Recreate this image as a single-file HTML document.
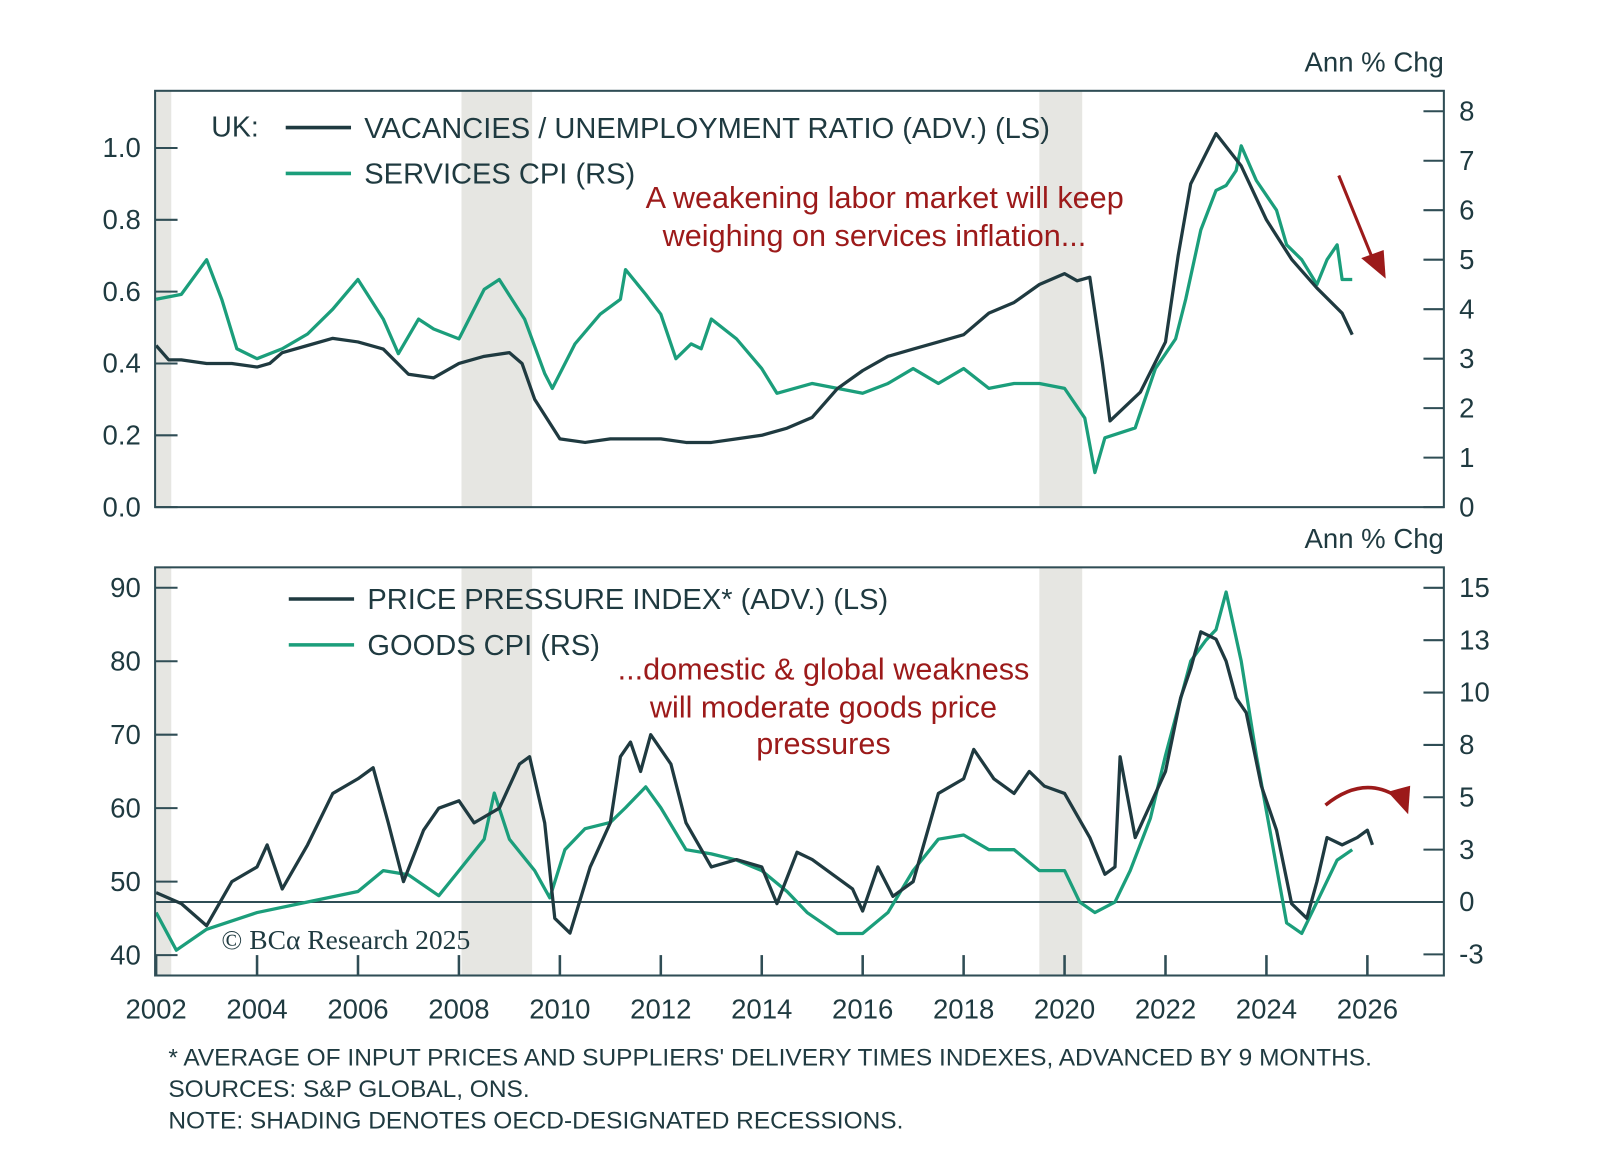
<!DOCTYPE html>
<html><head><meta charset="utf-8"><style>
body{margin:0;background:#fff;}
svg{display:block;font-family:"Liberation Sans",sans-serif;}
</style></head><body>
<svg width="1600" height="1150" viewBox="0 0 1600 1150"><g id="c" transform="scale(1.0204)"></g></svg>
<script>
const vuDates=[2002,2002.25,2002.5,2003,2003.5,2004,2004.25,2004.5,2005,2005.5,2006,2006.5,2007,2007.5,2008,2008.5,2009,2009.25,2009.5,2010,2010.5,2011,2011.5,2012,2012.5,2013,2013.5,2014,2014.5,2015,2015.5,2016,2016.5,2017,2017.5,2018,2018.5,2019,2019.5,2020,2020.25,2020.5,2020.75,2020.9,2021.5,2022,2022.25,2022.5,2023,2023.5,2024,2024.5,2025,2025.5,2025.7];
const vuVals=[0.45,0.41,0.41,0.40,0.40,0.39,0.40,0.43,0.45,0.47,0.46,0.44,0.37,0.36,0.40,0.42,0.43,0.40,0.30,0.19,0.18,0.19,0.19,0.19,0.18,0.18,0.19,0.20,0.22,0.25,0.33,0.38,0.42,0.44,0.46,0.48,0.54,0.57,0.62,0.65,0.63,0.64,0.40,0.24,0.32,0.46,0.70,0.90,1.04,0.95,0.80,0.69,0.61,0.54,0.48];
const svcDates=[2002,2002.5,2003,2003.3,2003.6,2004,2004.5,2005,2005.5,2006,2006.5,2006.8,2007.2,2007.5,2008,2008.5,2008.8,2009.3,2009.7,2009.85,2010.3,2010.8,2011.2,2011.3,2011.7,2012,2012.3,2012.6,2012.8,2013,2013.5,2014,2014.3,2015,2015.5,2016,2016.5,2017,2017.5,2018,2018.5,2019,2019.5,2020,2020.4,2020.6,2020.8,2021.4,2021.8,2022.2,2022.4,2022.7,2023,2023.2,2023.4,2023.5,2023.8,2024.2,2024.4,2024.7,2025,2025.2,2025.4,2025.5,2025.7];
const svcVals=[4.2,4.3,5.0,4.2,3.2,3.0,3.2,3.5,4.0,4.6,3.8,3.1,3.8,3.6,3.4,4.4,4.6,3.8,2.7,2.4,3.3,3.9,4.2,4.8,4.3,3.9,3.0,3.3,3.2,3.8,3.4,2.8,2.3,2.5,2.4,2.3,2.5,2.8,2.5,2.8,2.4,2.5,2.5,2.4,1.8,0.7,1.4,1.6,2.8,3.4,4.2,5.6,6.4,6.5,6.8,7.3,6.6,6.0,5.3,5.0,4.5,5.0,5.3,4.6,4.6];
const ppiDates=[2002,2002.5,2003,2003.5,2004,2004.2,2004.5,2005,2005.5,2006,2006.3,2006.6,2006.9,2007.3,2007.6,2008,2008.3,2008.8,2009.2,2009.4,2009.7,2009.9,2010.2,2010.6,2011,2011.2,2011.4,2011.6,2011.8,2012.2,2012.5,2013,2013.5,2014,2014.3,2014.7,2015,2015.4,2015.8,2016,2016.3,2016.6,2017,2017.5,2018,2018.2,2018.6,2019,2019.3,2019.6,2020,2020.5,2020.8,2021,2021.1,2021.4,2022,2022.3,2022.5,2022.7,2023,2023.2,2023.4,2023.6,2023.9,2024.2,2024.5,2024.8,2025,2025.2,2025.5,2025.8,2026,2026.1];
const ppiVals=[48.5,47,44,50,52,55,49,55,62,64,65.5,58,50,57,60,61,58,60,66,67,58,45,43,52,58,67,69,65,70,66,58,52,53,52,47,54,53,51,49,46,52,48,50,62,64,68,64,62,65,63,62,56,51,52,67,56,65,75,79,84,83,80,75,73,63,57,47,45,50,56,55,56,57,55];
const gdsDates=[2002,2002.4,2003,2004,2005,2006,2006.5,2007,2007.6,2008,2008.5,2008.7,2009,2009.5,2009.8,2010.1,2010.5,2011,2011.3,2011.7,2012,2012.5,2013,2013.5,2014,2014.5,2014.9,2015.5,2016,2016.5,2017,2017.5,2018,2018.5,2019,2019.5,2020,2020.3,2020.6,2021,2021.3,2021.7,2022,2022.5,2022.8,2023,2023.2,2023.5,2023.8,2024.1,2024.4,2024.7,2025,2025.4,2025.7];
const gdsVals=[-0.5,-2.3,-1.3,-0.5,0,0.5,1.5,1.3,0.3,1.5,3.0,5.2,3.0,1.5,0.2,2.5,3.5,3.8,4.5,5.5,4.5,2.5,2.3,2.0,1.5,0.5,-0.5,-1.5,-1.5,-0.5,1.5,3.0,3.2,2.5,2.5,1.5,1.5,0,-0.5,0,1.5,4.0,7.0,11.5,12.5,13,14.8,11.5,7,3,-1,-1.5,0,2,2.5];
const years=[2002,2004,2006,2008,2010,2012,2014,2016,2018,2020,2022,2024,2026];
const recessions=[[2002,2002.3],[2008.05,2009.45],[2019.5,2020.35]];
const topL=[0,0.2,0.4,0.6,0.8,1.0], topR=[0,1,2,3,4,5,6,7,8];
const botL=[40,50,60,70,80,90], botR=[-2.5,0,2.5,5,7.5,10,12.5,15], botRLbl=["-3","0","3","5","8","10","13","15"];

const NS="http://www.w3.org/2000/svg", S=document.getElementById('c');
function el(t,a,txt){const e=document.createElementNS(NS,t);for(const k in a)e.setAttribute(k,a[k]);if(txt!==undefined)e.textContent=txt;S.appendChild(e);return e;}
const X=y=>153+(y-2002)*49.46;
const tL=v=>497-v*352, tR=v=>497-v*48.5;
const bL=v=>576+(90-v)*7.2, bR=v=>884-v*20.53;
const DARK="#1f3a40", GREEN="#1b9e7b", RED="#9c1a1a", FR="#2f4d55";

function panel(top,bot){
  recessions.forEach(r=>{const e=el('rect',{x:Math.max(X(r[0]),153),y:top,width:X(r[1])-Math.max(X(r[0]),153),height:bot-top,fill:"#e6e6e2"});
  });
}
panel(89,497);panel(556,956);

function line(ds,vs,fx,fy,col,name){const d=ds.map((t,i)=>(i?'L':'M')+X(t).toFixed(1)+','+fy(vs[i]).toFixed(1)).join('');
 const e=el('path',{d:d,fill:'none',stroke:col,'stroke-width':3.2,'stroke-linejoin':'round'});
 }
function frame(top,bot,name){const e=el('rect',{x:152,y:top,width:1263,height:bot-top,fill:'none',stroke:FR,'stroke-width':2});
 }
let z=el('line',{x1:152,x2:1415,y1:bR(0),y2:bR(0),stroke:FR,'stroke-width':2});


line(svcDates,svcVals,X,tR,GREEN,'services-cpi-line');
line(vuDates,vuVals,X,tL,DARK,'vacancies-unemployment-line');
line(gdsDates,gdsVals,X,bR,GREEN,'goods-cpi-line');
line(ppiDates,ppiVals,X,bL,DARK,'price-pressure-line');
frame(89,497,'top-panel-frame');frame(556,956,'bottom-panel-frame');

const ft={'font-size':27,fill:DARK};
topL.forEach(v=>{el('line',{x1:152,x2:174,y1:tL(v),y2:tL(v),stroke:FR,'stroke-width':2});
 const t=el('text',Object.assign({x:138,y:tL(v)+9,'text-anchor':'end'},ft),v.toFixed(1));});
topR.forEach(v=>{el('line',{x1:1415,x2:1395,y1:tR(v),y2:tR(v),stroke:FR,'stroke-width':2});
 const t=el('text',Object.assign({x:1430,y:tR(v)+9},ft),String(v));});
botL.forEach(v=>{el('line',{x1:152,x2:174,y1:bL(v),y2:bL(v),stroke:FR,'stroke-width':2});
 const t=el('text',Object.assign({x:138,y:bL(v)+9,'text-anchor':'end'},ft),String(v));});
botR.forEach((v,i)=>{el('line',{x1:1415,x2:1395,y1:bR(v),y2:bR(v),stroke:FR,'stroke-width':2});
 const t=el('text',Object.assign({x:1430,y:bR(v)+9},ft),botRLbl[i]);});
years.forEach(y=>{el('line',{x1:X(y),x2:X(y),y1:956,y2:936,stroke:FR,'stroke-width':2.5});
 const t=el('text',Object.assign({x:X(y),y:998,'text-anchor':'middle'},ft),String(y));});

function txt(x,y,s,o,name){const t=el('text',Object.assign({x:x,y:y},ft,o||{}),s);return t;}
txt(1415,70,"Ann % Chg",{'text-anchor':'end'},'top-right-axis-title');
txt(1415,537,"Ann % Chg",{'text-anchor':'end'},'bottom-right-axis-title');
txt(207,134,"UK:",{'font-size':28},'region-label');
function leg(x1,y,col,label,name){el('line',{x1:x1,x2:x1+64,y1:y,y2:y,stroke:col,'stroke-width':3.5});txt(x1+77,y+10,label,{'font-size':28.5},name);}
leg(280,125,DARK,"VACANCIES / UNEMPLOYMENT RATIO (ADV.) (LS)",'legend-vu-ratio');
leg(280,170,GREEN,"SERVICES CPI (RS)",'legend-services-cpi');
leg(283,587,DARK,"PRICE PRESSURE INDEX* (ADV.) (LS)",'legend-price-pressure');
leg(283,632,GREEN,"GOODS CPI (RS)",'legend-goods-cpi');
const rd={fill:RED,'font-size':30,'text-anchor':'middle'};
txt(867,204,"A weakening labor market will keep",rd,'annotation-top');
txt(857,241,"weighing on services inflation...",rd,'annotation-top-2');
txt(807,666,"...domestic & global weakness",rd,'annotation-bottom');
txt(807,703,"will moderate goods price",rd,'annotation-bottom-2');
txt(807,739,"pressures",rd,'annotation-bottom-3');
txt(217,930,"© BCα Research 2025",{'font-family':'"Liberation Serif",serif','font-size':27},'copyright');
txt(165,1044,"* AVERAGE OF INPUT PRICES AND SUPPLIERS' DELIVERY TIMES INDEXES, ADVANCED BY 9 MONTHS.",{'font-size':24},'footnote-1');
txt(165,1075,"SOURCES: S&P GLOBAL, ONS.",{'font-size':24},'footnote-2');
txt(165,1106,"NOTE: SHADING DENOTES OECD-DESIGNATED RECESSIONS.",{'font-size':24},'footnote-3');
let a=el('line',{x1:1312,y1:172,x2:1347,y2:258,stroke:RED,'stroke-width':3});
el('polygon',{points:"1358,273 1334,253 1356,245",fill:RED});
let b=el('path',{d:"M1299,789 Q1335,760 1368,780",fill:'none',stroke:RED,'stroke-width':3.5});
el('polygon',{points:"1380,798 1360,776 1382,770",fill:RED});
</script>
</body></html>
